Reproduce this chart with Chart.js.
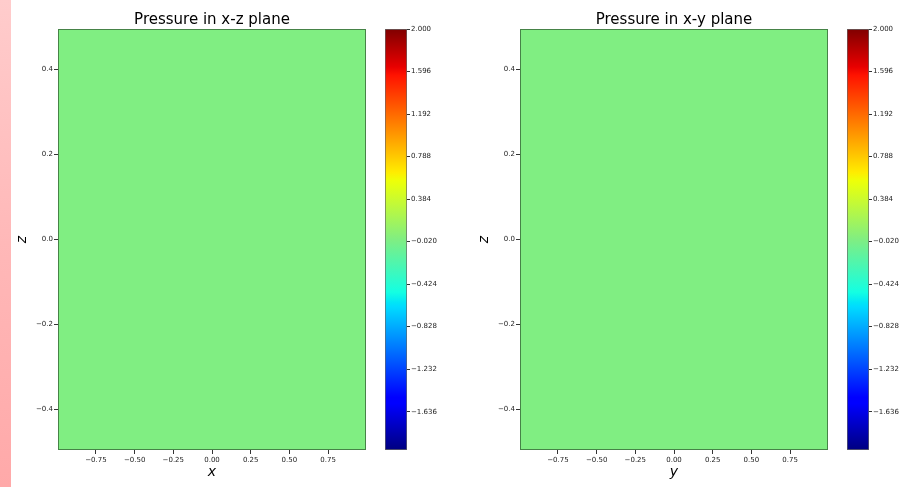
<!DOCTYPE html>
<html>
<head>
<meta charset="utf-8">
<script src="https://cdn.jsdelivr.net/npm/chart.js@4.4.1/dist/chart.umd.min.js"></script>
<style>
  html, body { margin: 0; padding: 0; background: #ffffff; }
  #page { position: relative; width: 907px; height: 487px; overflow: hidden; background: #ffffff; }
  .box { position: absolute; top: 0; height: 487px; }
  canvas { display: block; }
  #edge { position: absolute; left: 0; top: 0; width: 11px; height: 487px;
          background: linear-gradient(#ffcccc, #ffb8b8 50%, #ffa9a9); }
</style>
</head>
<body>
<div id="page">
  <div class="box" style="left:0px;width:424px"><canvas id="fieldXZ" width="424" height="487"></canvas></div>
  <div class="box" style="left:375px;width:100px"><canvas id="barXZ" width="100" height="487"></canvas></div>
  <div class="box" style="left:462px;width:424px"><canvas id="fieldXY" width="424" height="487"></canvas></div>
  <div class="box" style="left:837px;width:70px"><canvas id="barXY" width="70" height="487"></canvas></div>
  <div id="edge"></div>
</div>
<script>
// ---- data ----
const xDomain = [-0.995, 0.995];          // x extent of the sampled plane
const yDomain = [-0.995, 0.995];          // y extent of the sampled plane
const zDomain = [-0.495, 0.495];          // z extent of the sampled plane
const pressureXZ = 0.0;                   // uniform pressure in the x-z slice
const pressureXY = 0.0;                   // uniform pressure in the x-y slice
const colorbarRange = [-2.0, 2.0];        // colour scale limits
const colorbarTicks = [2.000, 1.596, 1.192, 0.788, 0.384, -0.020, -0.424, -0.828, -1.232, -1.636];
const horizontalTicks = [-0.75, -0.50, -0.25, 0.00, 0.25, 0.50, 0.75];
const verticalTicks = [-0.4, -0.2, 0.0, 0.2, 0.4];

// ---- styling ----
const FONT = "'DejaVu Sans', 'Liberation Sans', sans-serif";
const TICK_COLOR = '#222';
const JET_STOPS = [
  [0.000, [0, 0, 128]],
  [0.110, [0, 0, 255]],
  [0.125, [0, 0, 255]],
  [0.340, [0, 219, 255]],
  [0.350, [0, 229, 247]],
  [0.375, [20, 255, 226]],
  [0.500, [128, 238, 130]],
  [0.625, [226, 255, 20]],
  [0.640, [238, 255, 8]],
  [0.660, [255, 236, 0]],
  [0.890, [255, 19, 0]],
  [0.910, [232, 0, 0]],
  [1.000, [128, 0, 0]]
];

function jet(t) {
  t = Math.min(1, Math.max(0, t));
  for (let i = 1; i < JET_STOPS.length; i++) {
    const [t1, c1] = JET_STOPS[i];
    const [t0, c0] = JET_STOPS[i - 1];
    if (t <= t1) {
      const f = t1 === t0 ? 0 : (t - t0) / (t1 - t0);
      const c = c0.map((v, k) => Math.round(v + (c1[k] - v) * f));
      return `rgb(${c[0]},${c[1]},${c[2]})`;
    }
  }
  return 'rgb(128,0,0)';
}

function colorFor(p) {
  return jet((p - colorbarRange[0]) / (colorbarRange[1] - colorbarRange[0]));
}

const minusSign = s => s.replace('-', '\u2212');

// outline of the plotting area, drawn on top of the field
const frame = {
  id: 'frame',
  afterDatasetsDraw(chart, args, opts) {
    const { ctx, chartArea: a } = chart;
    ctx.save();
    ctx.strokeStyle = opts.color || 'rgba(0,0,0,0.5)';
    ctx.lineWidth = 1;
    ctx.strokeRect(a.left + 0.5, a.top + 0.5, a.right - a.left - 1, a.bottom - a.top - 1);
    ctx.restore();
  }
};

function tickGrid(len) {
  return { display: true, drawOnChartArea: false, drawTicks: true, tickLength: len, tickColor: '#333', tickWidth: 1 };
}

function fieldChart(id, title, hLabel, hDomain, pressure) {
  return new Chart(document.getElementById(id), {
    type: 'line',
    data: {
      datasets: [{
        label: 'pressure',
        data: [{ x: hDomain[0], y: zDomain[1] }, { x: hDomain[1], y: zDomain[1] }],
        fill: { value: zDomain[0] },
        backgroundColor: colorFor(pressure),
        borderWidth: 0,
        pointRadius: 0
      }]
    },
    options: {
      responsive: false,
      animation: false,
      devicePixelRatio: 1,
      events: [],
      layout: { padding: 0 },
      plugins: {
        legend: { display: false },
        tooltip: { enabled: false },
        title: {
          display: true, text: title, color: '#000',
          font: { family: FONT, size: 15, weight: 'normal' },
          padding: { top: 11, bottom: 0 }
        },
        frame: { color: 'rgba(0,0,0,0.45)' }
      },
      scales: {
        x: {
          type: 'linear', min: hDomain[0], max: hDomain[1],
          afterBuildTicks: s => { s.ticks = horizontalTicks.map(v => ({ value: v })); },
          afterFit: s => { s.height = 37; },
          grid: tickGrid(4),
          border: { display: false },
          ticks: {
            autoSkip: false, maxRotation: 0, padding: 2, color: TICK_COLOR,
            font: { family: FONT, size: 7 },
            callback: v => minusSign(v.toFixed(2))
          },
          title: {
            display: true, text: hLabel, color: '#000',
            font: { family: FONT, size: 14, style: 'italic' },
            padding: { top: 0, bottom: 6 }
          }
        },
        y: {
          type: 'linear', min: zDomain[0], max: zDomain[1],
          afterBuildTicks: s => { s.ticks = verticalTicks.map(v => ({ value: v })); },
          afterFit: s => { s.width = 58; },
          grid: tickGrid(4),
          border: { display: false },
          ticks: {
            autoSkip: false, padding: 1, color: TICK_COLOR,
            font: { family: FONT, size: 7 },
            callback: v => minusSign(v.toFixed(1))
          },
          title: {
            display: true, text: 'z', color: '#000',
            font: { family: FONT, size: 14, style: 'italic' },
            padding: { top: 14, bottom: 0 }
          }
        },
        // empty right-hand gutter, keeps the plot (and its title) centred in the canvas
        gutter: {
          type: 'linear', position: 'right', display: true,
          afterFit: s => { s.width = 58; },
          grid: { display: false },
          border: { display: false },
          ticks: { display: false }
        }
      }
    },
    plugins: [frame]
  });
}

function colorbarChart(id, axisWidth) {
  return new Chart(document.getElementById(id), {
    type: 'bar',
    data: {
      labels: [''],
      datasets: [{
        data: [[colorbarRange[0], colorbarRange[1]]],
        backgroundColor: ctx => {
          const chart = ctx.chart;
          const ys = chart.scales.y;
          if (!chart.chartArea || !ys) return colorFor(0);
          const g = chart.ctx.createLinearGradient(0, ys.getPixelForValue(colorbarRange[1]), 0, ys.getPixelForValue(colorbarRange[0]));
          JET_STOPS.forEach(([t]) => g.addColorStop(1 - t, jet(t)));
          return g;
        },
        borderColor: 'rgba(0,0,0,0.6)',
        borderWidth: 1,
        borderSkipped: false,
        barPercentage: 1,
        categoryPercentage: 1
      }]
    },
    options: {
      responsive: false,
      animation: false,
      devicePixelRatio: 1,
      events: [],
      layout: { padding: { left: 10, right: 0, top: 29, bottom: 37 } },
      plugins: { legend: { display: false }, tooltip: { enabled: false } },
      scales: {
        x: { type: 'category', display: false },
        y: {
          type: 'linear', position: 'right', min: colorbarRange[0], max: colorbarRange[1],
          afterBuildTicks: s => { s.ticks = colorbarTicks.map(v => ({ value: v })); },
          afterFit: s => { s.width = axisWidth; },
          grid: tickGrid(3),
          border: { display: false },
          ticks: {
            autoSkip: false, padding: 1, color: TICK_COLOR,
            font: { family: FONT, size: 7 },
            callback: v => minusSign(v.toFixed(3))
          }
        }
      }
    }
  });
}

fieldChart('fieldXZ', 'Pressure in x-z plane', 'x', xDomain, pressureXZ);
colorbarChart('barXZ', 68);
fieldChart('fieldXY', 'Pressure in x-y plane', 'y', yDomain, pressureXY);
colorbarChart('barXY', 38);
</script>
</body>
</html>
